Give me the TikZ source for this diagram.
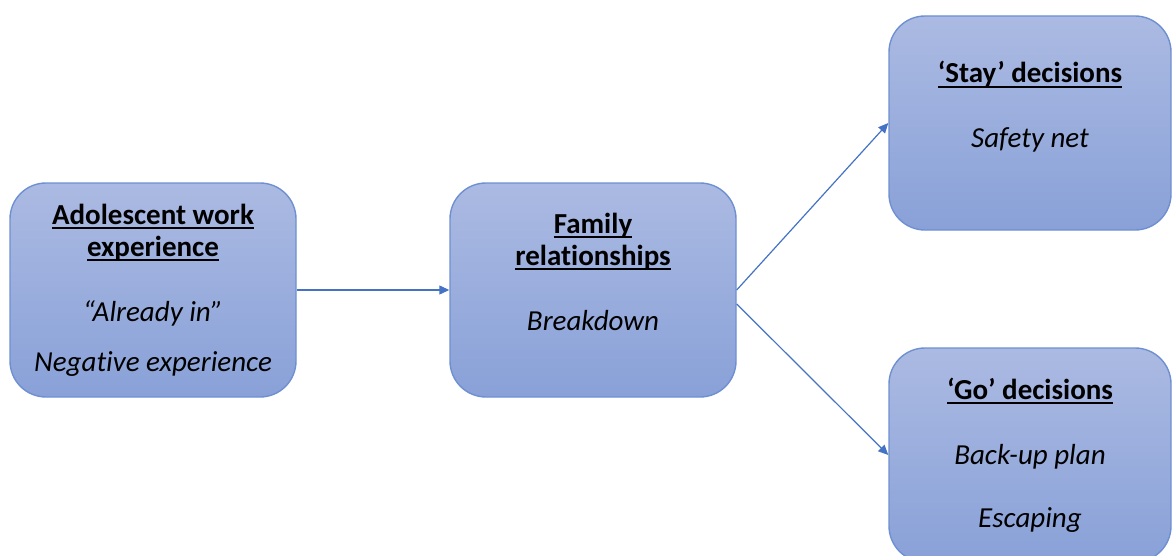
\documentclass[tikz,border=0pt]{standalone}
\usepackage{fontspec}
\setmainfont{Carlito}[Ligatures=NoCommon]
\usetikzlibrary{arrows.meta}
\definecolor{boxtop}{RGB}{171,186,226}
\definecolor{boxbot}{RGB}{137,161,216}
\definecolor{boxline}{RGB}{110,144,210}
\definecolor{linkblue}{RGB}{68,114,196}
\newsavebox{\hdbox}
\newcommand{\hd}[1]{\sbox{\hdbox}{\textbf{#1}}%
  \rlap{\rule[-2.5pt]{\wd\hdbox}{1pt}}\usebox{\hdbox}}
\tikzset{stage/.style={draw=boxline, line width=0.7pt,
    top color=boxtop, bottom color=boxbot,
    rounded corners=18pt, minimum width=143pt, minimum height=107pt,
    align=center, inner sep=0pt,
    font=\fontsize{14.5}{16}\selectfont},
  link/.style={draw=linkblue, line width=0.6pt,
    -{Triangle[length=5pt,width=4.5pt]}},
  }

\begin{document}
\begin{tikzpicture}[x=0.5pt,y=-0.5pt]
  \useasboundingbox (0,0) rectangle (1172,556);
  \node[stage] (adol) at (153,290)
    {\hd{Adolescent work}\\\hd{experience}\\[16.5pt]
     \textit{“Already in”}\\[9pt]\textit{Negative experience}};
  \node[stage] (family) at (593,290)
    {\hd{Family}\\\hd{relationships}\\[16.5pt]
     \textit{Breakdown}\\\vphantom{p}};
  \node[stage, minimum width=141pt] (stay) at (1030,123)
    {\hd{‘Stay’ decisions}\\[16.5pt]
     \textit{Safety net}\\\vphantom{p}};
  \node[stage, minimum width=141pt] (go) at (1030,455)
    {\hd{‘Go’ decisions}\\[16.5pt]
     \textit{Back-up plan}\\[15.5pt]\textit{Escaping}};
  % connectors
  \draw[link] (adol.east) -- (family.west);
  \draw[link] (family.east) -- (stay.west);
  \draw[link] ([yshift=-7pt]family.east) -- (go.west);
\end{tikzpicture}
\end{document}
